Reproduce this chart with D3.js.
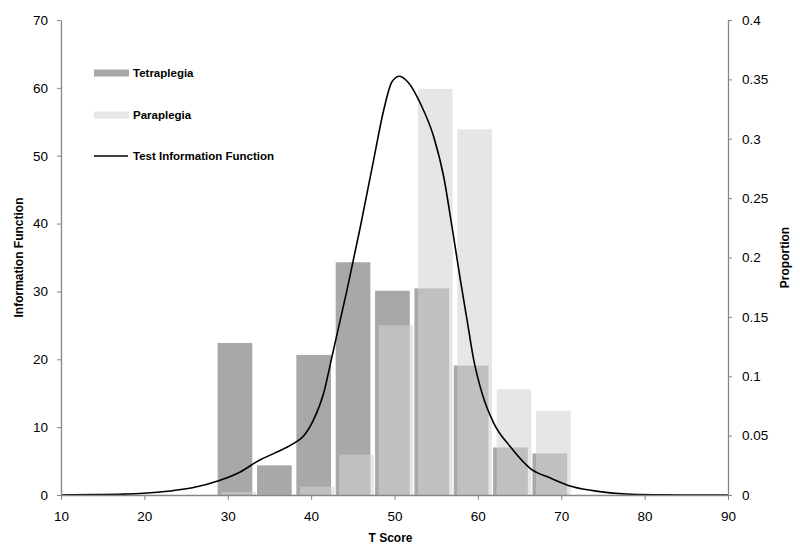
<!DOCTYPE html>
<html>
<head>
<meta charset="utf-8">
<script src="https://cdn.jsdelivr.net/npm/d3@7"></script>
<style>
  body { margin: 0; background: #fff; }
  text { font-family: "Liberation Sans", Arial, sans-serif; fill: #000; }
</style>
</head>
<body>
<svg id="chart" width="800" height="552"></svg>
<script>
// bins (T score midpoints) and proportions per group
var binMid = [30.87, 35.59, 40.31, 45.03, 49.75, 54.47, 59.19, 63.91, 68.63];
var tetraplegia = [0.128, 0.025, 0.118, 0.196, 0.172, 0.174, 0.109, 0.040, 0.035];
var paraplegia  = [0.0026, 0, 0.007, 0.034, 0.143, 0.342, 0.308, 0.089, 0.071];

// test information function
var tifX = [10, 14, 17, 19.9, 23.1, 25.9, 28.9, 31.5, 33.9, 35.5, 37.9, 39.1, 40.3, 41.5, 42.5, 44.3, 45.9, 47.5,
            48.7, 49.7, 50.6, 51.7, 53.1, 54.7, 55.9, 56.9, 57.9, 58.7, 59.5, 60.5, 61.9, 63.9, 66.3, 68.7,
            71.4, 74.6, 77.8, 81.4, 85, 90];
var tifY = [0, 0.05, 0.12, 0.25, 0.6, 1.1, 2.1, 3.4, 5.2, 6.1, 7.6, 8.7, 11.1, 15.0, 20.4, 30.2, 39.5, 49.4,
            56.7, 60.9, 61.7, 60.7, 57.7, 52.8, 46.9, 39.5, 31.7, 25.8, 19.9, 15.0, 10.6, 7.1, 3.9, 2.5,
            1.2, 0.5, 0.15, 0.04, 0.01, 0];

var xTicks = [10, 20, 30, 40, 50, 60, 70, 80, 90];
var leftTicks = [0, 10, 20, 30, 40, 50, 60, 70];
var rightTicks = [0, 0.05, 0.1, 0.15, 0.2, 0.25, 0.3, 0.35, 0.4];

var svg = d3.select("#chart");
var L = 61, R = 728, T = 20, B = 495;
var axisColor = "#868686";

var x = d3.scaleLinear().domain([10, 90]).range([L, R]);
var yL = d3.scaleLinear().domain([0, 70]).range([B, T]);
var yR = d3.scaleLinear().domain([0, 0.4]).range([B, T]);

var binW = 4.16, offset = 0.42;

// Tetraplegia bars
svg.append("g").selectAll("rect")
  .data(tetraplegia)
  .enter().append("rect")
  .attr("x", function (d, i) { return x(binMid[i] - binW / 2); })
  .attr("width", x(binW) - x(0))
  .attr("y", function (d) { return yR(d); })
  .attr("height", function (d) { return B - yR(d); })
  .attr("fill", "#a8a8a8");

// Paraplegia bars, semi transparent on top
svg.append("g").selectAll("rect")
  .data(paraplegia)
  .enter().append("rect")
  .attr("x", function (d, i) { return x(binMid[i] - binW / 2 + offset); })
  .attr("width", x(binW) - x(0))
  .attr("y", function (d) { return yR(d); })
  .attr("height", function (d) { return B - yR(d); })
  .attr("fill", "#d3d3d3")
  .attr("fill-opacity", 0.57);

// Curve
var line = d3.line()
  .x(function (d, i) { return x(tifX[i]); })
  .y(function (d) { return yL(d); })
  .curve(d3.curveMonotoneX);

svg.append("path")
  .attr("d", line(tifY))
  .attr("fill", "none")
  .attr("stroke", "#000")
  .attr("stroke-width", 1.6);

// Axes
function styleAxis(g) {
  g.select(".domain").attr("stroke", axisColor).attr("stroke-width", 1.3);
  g.selectAll(".tick line").attr("stroke", axisColor);
  g.selectAll(".tick text").style("font-size", "13.5px").attr("fill", "#000");
}

svg.append("g")
  .attr("transform", "translate(0," + B + ")")
  .call(d3.axisBottom(x).tickValues(xTicks).tickSize(5).tickSizeOuter(0).tickPadding(11))
  .call(styleAxis);

svg.append("g")
  .attr("transform", "translate(" + L + ",0)")
  .call(d3.axisLeft(yL).tickValues(leftTicks).tickSize(4).tickSizeOuter(0).tickPadding(9))
  .call(styleAxis);

svg.append("g")
  .attr("transform", "translate(" + R + ",0)")
  .call(d3.axisRight(yR).tickValues(rightTicks).tickFormat(d3.format("")).tickSize(4).tickSizeOuter(0).tickPadding(10))
  .call(styleAxis);

// Axis titles
svg.append("text")
  .attr("x", (L + R) / 2 - 4).attr("y", 542)
  .attr("text-anchor", "middle")
  .style("font-size", "12px").style("font-weight", "bold")
  .text("T Score");

svg.append("text")
  .attr("transform", "translate(23," + (T + B) / 2 + ") rotate(-90)")
  .attr("text-anchor", "middle")
  .style("font-size", "12px").style("font-weight", "bold")
  .text("Information Function");

svg.append("text")
  .attr("transform", "translate(789," + (T + B) / 2 + ") rotate(-90)")
  .attr("text-anchor", "middle")
  .style("font-size", "12px").style("font-weight", "bold")
  .text("Proportion");

// Legend
var legend = [
  { label: "Tetraplegia", type: "rect", fill: "#a8a8a8", y: 73 },
  { label: "Paraplegia", type: "rect", fill: "#e6e6e6", y: 115 },
  { label: "Test Information Function", type: "line", y: 156 }
];
var lg = svg.append("g");
legend.forEach(function (d) {
  if (d.type === "rect")
    lg.append("rect").attr("x", 94).attr("y", d.y - 3.5).attr("width", 35).attr("height", 7).attr("fill", d.fill);
  else
    lg.append("line").attr("x1", 94).attr("x2", 128).attr("y1", d.y).attr("y2", d.y)
      .attr("stroke", "#000").attr("stroke-width", 1.5);
  lg.append("text").attr("x", 133).attr("y", d.y).attr("dy", "0.35em")
    .style("font-size", "11.5px").style("font-weight", "bold").text(d.label);
});
</script>
</body>
</html>
